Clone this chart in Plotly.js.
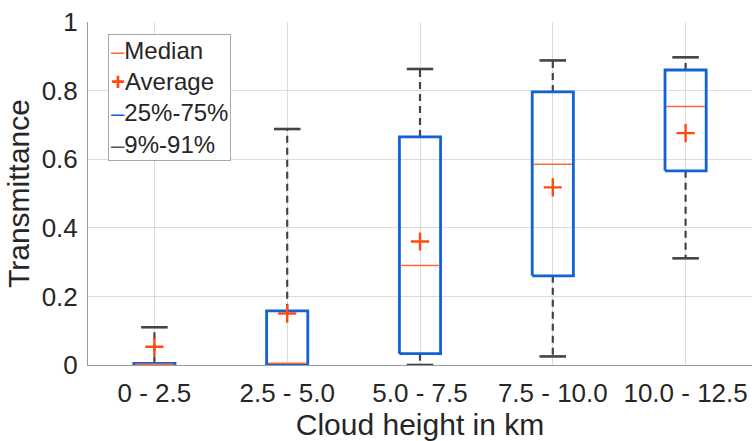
<!DOCTYPE html>
<html>
<head>
<meta charset="utf-8">
<script src="https://cdn.plot.ly/plotly-3.0.1.min.js"></script>
<style>html,body{margin:0;padding:0;background:#fff;}#chart{width:752px;height:441px;}</style>
</head>
<body>
<div id="chart"></div>
<script>
var categories = ['0 - 2.5', '2.5 - 5.0', '5.0 - 7.5', '7.5 - 10.0', '10.0 - 12.5'];
var p9     = [0.000, 0.000, 0.000, 0.025, 0.311];
var q1     = [0.000, 0.000, 0.033, 0.260, 0.566];
var median = [0.002, 0.005, 0.290, 0.585, 0.754];
var q3     = [0.005, 0.158, 0.665, 0.796, 0.860];
var p91    = [0.110, 0.688, 0.863, 0.888, 0.897];
var mean   = [0.053, 0.150, 0.360, 0.518, 0.676];
var yTicks = [0, 0.2, 0.4, 0.6, 0.8, 1];
var yTickText = ['0', '0.2', '0.4', '0.6', '0.8', '1'];
var legendNames = ['Median', 'Average', '25%-75%', '9%-91%'];

var pos = categories.map(function (c, i) { return i + 1; });
var boxHalf = 0.155, capHalf = 0.1;

var wx = [], wy = [], cx = [], cy = [], bx = [], by = [], mx = [], my = [];
pos.forEach(function (p, i) {
  wx.push(p, p, null, p, p, null);
  wy.push(q3[i], p91[i], null, q1[i], p9[i], null);
  cx.push(p - capHalf, p + capHalf, null, p - capHalf, p + capHalf, null);
  cy.push(p91[i], p91[i], null, p9[i], p9[i], null);
  bx.push(p - boxHalf, p + boxHalf, p + boxHalf, p - boxHalf, p - boxHalf, null);
  by.push(q1[i], q1[i], q3[i], q3[i], q1[i], null);
  mx.push(p - boxHalf + 0.01, p + boxHalf - 0.01, null);
  my.push(median[i], median[i], null);
});

var grey = '#444444', blue = '#1262d4', orange = '#ff6a3a', red = '#ff4a14';
var traces = [
  {x: wx, y: wy, mode: 'lines', type: 'scatter', cliponaxis: false, line: {color: grey, width: 2.2, dash: '7px,5px'}, showlegend: false, hoverinfo: 'skip'},
  {x: cx, y: cy, mode: 'lines', type: 'scatter', cliponaxis: false, line: {color: grey, width: 2.6}, name: legendNames[3]},
  {x: bx, y: by, mode: 'lines', type: 'scatter', cliponaxis: false, line: {color: blue, width: 2.8}, name: legendNames[2]},
  {x: mx, y: my, mode: 'lines', type: 'scatter', cliponaxis: false, line: {color: orange, width: 1.5}, name: legendNames[0]},
  {x: pos, y: mean, mode: 'markers', type: 'scatter', cliponaxis: false, marker: {symbol: 'cross-thin', size: 13, line: {color: red, width: 2.4}}, name: legendNames[1]}
];

var symbols = [
  '<span style="color:' + orange + '">–</span>',
  '<span style="color:' + red + '"><b>+</b></span>',
  '<span style="color:' + blue + '">–</span>',
  '<span style="color:#555555">–</span>'
];
var legendText = legendNames.map(function (n, i) { return symbols[i] + n; }).join('<br>');

var layout = {
  width: 752, height: 441,
  margin: {l: 88, r: 0, t: 22, b: 76},
  paper_bgcolor: '#fff', plot_bgcolor: '#fff',
  font: {family: '"Liberation Sans", Arial, sans-serif', color: '#262626', size: 26},
  showlegend: false,
  annotations: [{
    xref: 'paper', yref: 'paper', x: 0.0301, y: 0.965, xanchor: 'left', yanchor: 'top',
    align: 'left', showarrow: false, text: legendText,
    font: {size: 24, color: '#262626'}, bgcolor: '#fff', bordercolor: '#a8a8a8', borderwidth: 1, borderpad: 2
  }],
  xaxis: {
    range: [0.5, 5.5], tickvals: pos, ticktext: categories, showgrid: true, gridcolor: '#dcdcdc', gridwidth: 1,
    zeroline: false, showline: true, linecolor: '#9a9a9a', linewidth: 1, ticks: '', ticklabelstandoff: 5,
    tickfont: {size: 26, color: '#262626'},
    title: {text: 'Cloud height in km', font: {size: 30, color: '#262626'}, standoff: 10}
  },
  yaxis: {
    range: [0, 1], tickvals: yTicks, ticktext: yTickText, showgrid: true, gridcolor: '#dcdcdc', gridwidth: 1,
    zeroline: false, showline: true, linecolor: '#9a9a9a', linewidth: 1, ticks: '', ticklabelstandoff: 4,
    tickfont: {size: 26, color: '#262626'},
    title: {text: 'Transmittance', font: {size: 30, color: '#262626'}, standoff: 3}
  }
};

Plotly.newPlot('chart', traces, layout, {displayModeBar: false, staticPlot: true});
</script>
</body>
</html>
